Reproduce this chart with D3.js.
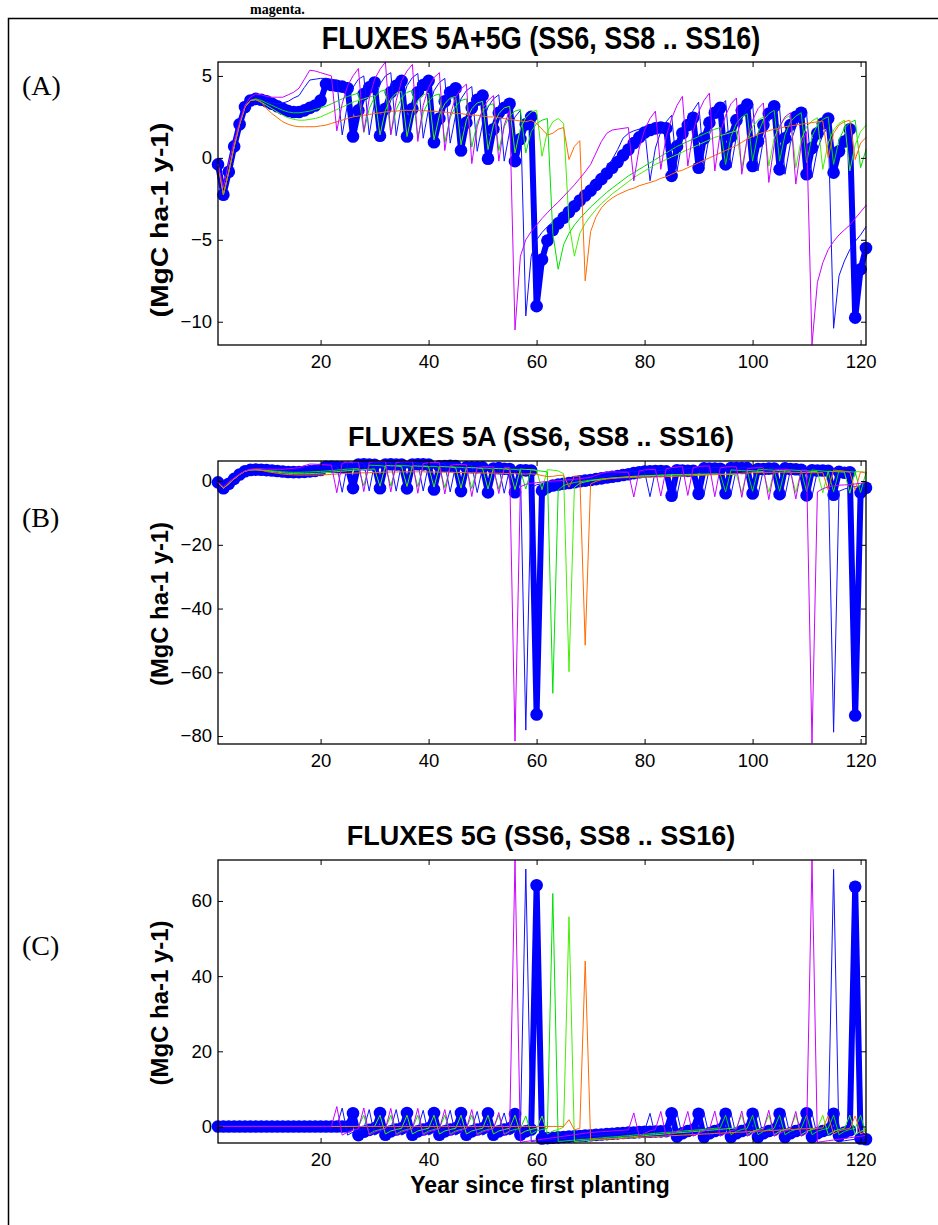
<!DOCTYPE html>
<html><head><meta charset="utf-8">
<script src="https://cdn.jsdelivr.net/npm/d3@7"></script>
<style>body{margin:0;background:#fff}</style>
</head><body>
<svg id="c" width="938" height="1225"></svg>
<script>
const years = d3.range(1, 122);

// ---- Panel A: FLUXES 5A+5G ----
const tbA = [-0.4,-2.25,-0.85,0.7,2.05,3.1,3.5,3.6,3.55,3.45, 3.3,3.15,3.0,2.85,2.8,2.8,2.9,3.05,3.2,3.5,
 4.5,4.45,4.4,4.35,4.25,1.3,2.9,3.9,4.3,4.6, 1.35,3.0,4.0,4.4,4.7,1.3,3.0,4.0,4.45,4.7,
 0.95,2.4,3.45,4.0,4.25,0.45,2.15,3.05,3.55,3.8, -0.05,1.75,2.75,3.05,3.3,-0.2,1.15,2.05,2.5,-9.05,
 -6.2,-5.05,-4.4,-4.0,-3.65,-3.3,-2.95,-2.6,-2.3,-2.0, -1.65,-1.3,-0.95,-0.6,-0.25,0.15,0.5,0.9,1.25,1.55,
 1.7,1.8,1.85,1.8,-1.1,0.7,1.5,2.0,2.45,-0.6, 1.2,2.15,2.75,3.05,-0.4,1.3,2.3,2.9,3.25,-0.5,
 1.0,2.0,2.7,3.15,-0.7,1.2,2.0,2.5,2.75,-1.0, 0.6,1.5,2.1,2.4,-0.9,0.4,1.0,1.75,-9.75,-6.8,-5.5];
const blA = [-0.4,-2.2,-0.8,0.75,2.1,3.15,3.5,3.6,3.55,3.45, 3.35,3.3,3.35,3.45,3.65,3.8,4.3,4.75,4.8,4.85,
 4.85,4.8,4.75, 1.4,3.3,4.3,4.8,5.0, 1.4,3.4,4.5,5.0,5.2, 1.35,3.3,4.4,4.9,5.15, 1.2,3.0,4.1,4.6,4.85,
 0.9,2.6,3.6,4.1,4.35, 0.4,2.1,3.1,3.6,3.85, -0.2,1.6,2.5,2.9,-9.65,
 -6.0,-5.0,-4.55,-4.2,-3.9,-3.6,-3.35,-3.05,-2.75,-2.45, -2.1,-1.75,-1.4,-1.0,-0.55,-0.1,0.5,1.2,1.5,1.65,1.75,1.8,
 -1.4,0.6,1.6,2.2,2.6, -0.8,1.1,2.2,2.9,3.4, -0.5,1.4,2.5,3.1,3.5, -0.6,1.3,2.4,3.0,3.3, -0.8,1.1,2.2,2.8,3.0,
 -1.0,0.9,1.9,2.5,2.7, -1.2,0.5,1.4,1.9, -10.4,-7.2,-6.3,-5.6,-5.1,-4.7,-4.2];
const g1A = [-0.4,-2.25,-0.85,0.7,2.05,3.1,3.5,3.6,3.5,3.35, 3.2,3.05,2.9,2.8,2.75,2.75,2.8,2.85,2.95,3.05,
 3.15,3.3,3.45,3.6,3.75,3.85,3.95, 1.55,3.0,3.7,4.05,4.15, 1.45,2.95,3.65,4.0,4.1, 1.25,2.75,3.45,3.8,3.9,
 0.95,2.45,3.15,3.5,3.6, 0.65,2.15,2.85,3.2,3.3, 0.45,1.9,2.55,2.85,2.95, 0.3,1.6,2.1,2.3,2.4,
 -4.6,-6.8,-5.3,-4.6,-4.1,-3.7,-3.35,-3.0,-2.7,-2.4, -2.1,-1.85,-1.6,-1.35,-1.1,-0.9,-0.7,-0.5,-0.3,-0.1,0.1,0.3,
 0.5,0.7,0.85,1.0,1.15,1.3,1.45,1.6,1.75,1.85, -0.4,1.3,2.1,2.5,2.7, -0.2,1.5,2.3,2.7,2.9, -0.2,1.4,2.2,2.55,2.75,
 -0.3,1.3,2.0,2.35,2.5, -0.4,1.1,1.8,2.15,2.3, -0.6,0.5];
const g2A = [-0.4,-2.25,-0.85,0.7,2.05,3.1,3.5,3.55,3.4, 3.2,3.0,2.8,2.6,2.45,2.35,2.3,2.3,2.35,2.4,2.5,
 2.65,2.8,2.95,3.1,3.25,3.4,3.5,3.6,3.7,3.8, 1.4,2.9,3.6,3.95,4.05, 1.3,2.8,3.5,3.85,3.95, 1.1,2.6,3.3,3.65,3.75,
 0.8,2.3,3.0,3.35,3.45, 0.5,2.0,2.7,3.05,3.15, 0.3,1.8,2.45,2.8,2.9, 0.1,1.6,2.2,2.4,2.1, -4.0,
 -6.0,-4.6,-4.0,-3.55,-3.15,-2.8,-2.5,-2.2,-1.95,-1.7, -1.45,-1.2,-1.0,-0.8,-0.6,-0.4,-0.25,-0.1,0.05,0.2,
 0.35,0.5,0.65,0.8,0.95,1.1,1.25,1.35,1.45,1.55,1.65, -0.6,1.1,1.9,2.3,2.5, -0.5,1.2,2.0,2.4,2.6,
 -0.6,1.1,1.9,2.25,2.45, -0.7,0.9,1.7,2.1,2.3, -0.8,0.8,1.6,2.0];
const orA = [-0.4,-2.25,-0.85,0.7,2.05,3.1,3.5,3.55,3.4, 3.0,2.7,2.45,2.2,2.05,1.95,1.9,1.9,1.9,1.9,1.95,
 2.0,2.1,2.2,2.3,2.4,2.5,2.55,2.6,2.65,2.7, 2.75,2.8,2.85,2.85,2.9,2.9,2.9,2.9,2.9,2.85,
 2.85,2.8,2.8,2.75,2.7,2.7,2.65,2.6,2.6,2.55, 2.5,2.5,2.45,2.4,2.35,2.3,2.25,2.2,2.3,2.1,
 1.75,1.4,1.5,1.75,1.85,-0.1,0.7,1.05,-7.5,-4.5, -3.6,-3.05,-2.7,-2.45,-2.25,-2.1,-1.95,-1.85,-1.7,-1.6,
 -1.5,-1.4,-1.25,-1.15,-1.0,-0.85,-0.75,-0.6,-0.45,-0.3, -0.15,0.0,0.15,0.3,0.45,0.6,0.75,0.95,1.15,1.3,
 1.45,1.55,1.65,1.75,1.8,1.9,1.95,2.0,2.05,2.1, 2.15,2.2,2.25,0.0,1.5,2.0,2.2,2.3,-0.1,0.9,1.25];
const mgA = [-0.4,-1.8,-0.3,1.0,2.2,3.2,3.7,3.9,3.85,3.75, 3.7,3.7,3.7,3.85,4.0,4.25,4.8,5.35,5.3,5.2, 5.1,5.0,
 1.65,3.3,4.4,5.0,5.45, 1.6,3.6,4.8,5.4,5.85, 1.4,3.5,4.7,5.3,5.7, 1.0,3.2,4.3,4.9,5.2, 0.45,2.6,3.7,4.2,4.5,
 -0.35,1.9,3.0,3.5,3.8, -0.2,2.0,2.9,-10.5,
 -6.0,-5.0,-4.5,-4.1,-3.7,-3.35,-3.0,-2.7,-2.35,-2.0, -1.65,-1.25,-0.85,-0.4,0.3,1.0,1.5,1.7,1.75,1.8,1.85,
 -1.4,0.6,1.7,2.4,2.85, -0.7,1.3,2.4,3.2,3.75, -0.5,1.6,2.8,3.5,3.95, -0.8,1.5,2.6,3.3,3.65, -1.0,1.2,2.3,3.0,3.35,
 -1.5,0.8,1.9,2.5,2.75, -1.6,0.8,1.6, -11.4,-7.6,-6.4,-5.6,-5.1,-4.7,-4.4,-4.1,-3.7,-3.3,-2.9];

// ---- Panel B: FLUXES 5A ----
const tbB = [-0.4,-2.25,-0.85,0.7,2.05,3.1,3.5,3.6,3.55,3.45, 3.3,3.15,3.0,2.85,2.8,2.8,2.9,3.05,3.2,3.5,
 4.5,4.45,4.4,4.35,4.25, -2.2,5.2,5.3,5.2,5.1, -2.25,5.2,5.3,5.2,5.2, -2.3,5.2,5.3,5.25,5.2,
 -2.65,4.6,4.75,4.8,4.75, -3.15,4.35,4.35,4.35,4.3, -3.55,3.95,4.05,3.85,3.8, -3.5,3.35,3.35,3.3,-73.25,
 -3.0,-1.95,-1.4,-1.1,-0.85,-0.6,-0.35,-0.05,0.15,0.35, 0.6,0.85,1.1,1.35,1.6,1.9,2.15,2.5,2.75,3.0,
 3.1,3.15,3.15,3.05, -4.6,3.4,3.3,3.2,3.25, -4.0,4.0,3.95,3.95,3.85, -3.8,4.1,4.1,4.1,4.05,
 -3.9,3.8,3.8,3.9,3.95, -4.1,4.0,3.8,3.7,3.55, -4.5,3.4,3.3,3.3,3.2, -4.3,2.9,2.6,2.75,-73.55,-3.6,-2.1];
const blB = [-0.4,-2.2,-0.8,0.75,2.1,3.15,3.5,3.6,3.55,3.45, 3.35,3.3,3.35,3.45,3.65,3.8,4.3,4.75,4.8,4.85,
 4.85,4.8,4.75, -3.5,5.6,5.8,5.8,5.6, -3.1,5.7,6.0,6.0,5.8, -3.15,5.6,5.9,5.9,5.75, -3.1,5.3,5.6,5.6,5.45,
 -3.4,4.9,5.1,5.1,4.95, -3.6,4.4,4.6,4.6,4.45, -3.8,3.8,3.9,3.8,-78.15,
 -2.0,-1.15,-0.85,-0.6,-0.45,-0.3,-0.15,0.0,0.15,0.35, 0.55,0.75,1.0,1.25,1.55,1.85,2.35,2.9,3.05,3.1,3.05,3.0,
 -4.9,3.2,3.4,3.4,3.4, -4.4,3.7,4.0,4.1,4.2, -4.1,4.0,4.3,4.3,4.3, -4.2,3.9,4.2,4.2,4.1, -4.4,3.7,4.0,4.0,3.8,
 -4.6,3.5,3.7,3.7,3.5, -4.8,3.1,3.2,3.1, -78.8,-3.2,-2.5,-2.0,-1.7,-1.5,-1.2];
const g1B = [-0.4,-2.25,-0.85,0.7,2.05,3.1,3.5,3.6,3.5,3.35, 3.2,3.05,2.9,2.8,2.75,2.75,2.8,2.85,2.95,3.05,
 3.15,3.3,3.45,3.6,3.75,3.85,3.95, -1.45,5.0,4.9,4.85,4.65, -1.55,4.95,4.85,4.8,4.6, -1.75,4.75,4.65,4.6,4.4,
 -2.05,4.45,4.35,4.3,4.1, -2.35,4.15,4.05,4.0,3.8, -2.55,3.9,3.75,3.65,3.45, -2.5,3.6,3.3,3.1,2.9, -66.6,
 -2.8,-1.4,-0.85,-0.45,-0.2,0.05,0.3,0.45,0.65,0.8, 0.95,1.1,1.2,1.35,1.4,1.5,1.6,1.65,1.75,1.8,
 1.9,2.0,2.05,2.1,2.1,2.15,2.2,2.2,2.25,2.25,2.25, -3.4,3.5,3.4,3.3,3.2, -3.2,3.7,3.6,3.5,3.4,
 -3.2,3.6,3.5,3.35,3.25, -3.3,3.5,3.3,3.15,3.0, -3.4,3.3,3.1,2.95,2.8, -3.6,2.7];
const g2B = [-0.4,-2.25,-0.85,0.7,2.05,3.1,3.5,3.55,3.4, 3.2,3.0,2.8,2.6,2.45,2.35,2.3,2.3,2.35,2.4,2.5,
 2.65,2.8,2.95,3.1,3.25,3.4,3.5,3.6,3.7,3.8, -1.6,4.9,4.8,4.75,4.55, -1.7,4.8,4.7,4.65,4.45, -1.9,4.6,4.5,4.45,4.25,
 -2.2,4.3,4.2,4.15,3.95, -2.5,4.0,3.9,3.85,3.65, -2.7,3.8,3.65,3.6,3.4, -2.7,3.6,3.4,3.2,2.3, -59.8,
 -2.0,-0.7,-0.25,0.1,0.35,0.6,0.8,0.95,1.1,1.2, 1.35,1.5,1.55,1.65,1.7,1.8,1.85,1.85,1.9,1.9,
 1.95,2.0,2.0,2.05,2.05,2.1,2.15,2.1,2.1,2.05,2.05, -3.6,3.3,3.2,3.1,3.0, -3.5,3.4,3.3,3.2,3.1,
 -3.6,3.3,3.2,3.05,2.95, -3.7,3.1,3.0,2.9,2.8, -3.8,3.0,2.9,2.8];
const orB = [-0.4,-2.25,-0.85,0.7,2.05,3.1,3.5,3.55,3.4, 3.0,2.7,2.45,2.2,2.05,1.95,1.9,1.9,1.9,1.9,1.95,
 2.0,2.1,2.2,2.3,2.4,2.5,2.55,2.6,2.65,2.7, 2.75,2.8,2.85,2.85,2.9,2.9,2.9,2.9,2.9,2.85,
 2.85,2.8,2.8,2.75,2.7,2.7,2.65,2.6,2.6,2.55, 2.5,2.5,2.45,2.4,2.35,2.3,2.25,2.2,2.3,2.1,
 1.75,1.4,1.5,1.75,1.85,-1.9,1.6,1.55,-51.5,-0.9, -0.1,0.4,0.65,0.85,0.95,1.05,1.1,1.15,1.2,1.25,
 1.25,1.3,1.35,1.4,1.45,1.55,1.55,1.65,1.7,1.8, 1.85,1.95,2.0,2.1,2.15,2.25,2.3,2.45,2.55,2.65,
 2.7,2.75,2.75,2.8,2.75,2.8,2.75,2.75,2.7,2.7, 2.65,2.65,2.65,-2.8,3.5,3.2,3.0,2.8,-2.9,2.9,2.45];
const mgB = [-0.4,-1.8,-0.3,1.0,2.2,3.2,3.7,3.9,3.85,3.75, 3.7,3.7,3.7,3.85,4.0,4.25,4.8,5.35,5.3,5.2, 5.1,5.0,
 -3.65,5.6,5.9,6.0,6.05, -3.3,5.9,6.1,6.2,6.25, -3.4,5.8,6.1,6.2,6.25, -3.8,5.5,5.8,5.9,5.8, -4.05,4.9,5.2,5.2,5.1,
 -4.85,4.2,4.5,4.5,4.4, -3.9,4.2,4.3,-81.6,
 -1.8,-1.0,-0.7,-0.5,-0.3,-0.15,0.0,0.1,0.25,0.4,0.55,0.75,0.95, 1.2,1.8,2.4,2.8,2.9,2.85,2.8,2.75,
 -5.0,3.2,3.5,3.6,3.65, -4.7,3.9,4.2,4.4,4.55, -4.5,4.2,4.6,4.7,4.75, -4.9,4.1,4.4,4.5,4.45, -5.1,3.8,4.1,4.2,4.15,
 -5.8,3.4,3.7,3.7,3.55, -5.6,3.4,3.4, -82.3,-3.4,-2.4,-1.8,-1.5,-1.3,-1.2,-1.1,-0.9,-0.7,-0.5];

// ---- Panel C: FLUXES 5G ----
const tbC = [0,0,0,0,0,0,0,0,0,0, 0,0,0,0,0,0,0,0,0,0, 0,0,0,0,0,
 3.5,-2.3,-1.4,-0.9,-0.5, 3.6,-2.2,-1.3,-0.8,-0.5, 3.6,-2.2,-1.3,-0.8,-0.5, 3.6,-2.2,-1.3,-0.8,-0.5,
 3.6,-2.2,-1.3,-0.8,-0.5, 3.5,-2.2,-1.3,-0.8,-0.5, 3.3,-2.2,-1.3,-0.8,64.2,
 -3.2,-3.1,-3.0,-2.9,-2.8,-2.7,-2.6,-2.55,-2.45,-2.35, -2.25,-2.15,-2.05,-1.95,-1.85,-1.75,-1.65,-1.6,-1.5,-1.45,
 -1.4,-1.35,-1.3,-1.25, 3.5,-2.7,-1.8,-1.2,-0.8, 3.4,-2.8,-1.8,-1.2,-0.8, 3.4,-2.8,-1.8,-1.2,-0.8,
 3.4,-2.8,-1.8,-1.2,-0.8, 3.4,-2.8,-1.8,-1.2,-0.8, 3.5,-2.8,-1.8,-1.2,-0.8, 3.4,-2.5,-1.6,-1.0,63.8,-3.2,-3.4];
const blC = [0,0,0,0,0,0,0,0,0,0, 0,0,0,0,0,0,0,0,0,0, 0,0,0,
 4.9,-2.3,-1.5,-1.0,-0.6, 4.5,-2.3,-1.5,-1.0,-0.6, 4.5,-2.3,-1.5,-1.0,-0.6, 4.3,-2.3,-1.5,-1.0,-0.6,
 4.3,-2.3,-1.5,-1.0,-0.6, 4.0,-2.3,-1.5,-1.0,-0.6, 3.6,-2.2,-1.4,-0.9,68.5,
 -4.0,-3.85,-3.7,-3.6,-3.45,-3.3,-3.2,-3.05,-2.9,-2.8, -2.65,-2.5,-2.4,-2.25,-2.1,-1.95,-1.85,-1.7,-1.55,-1.45,-1.3,-1.2,
 3.5,-2.6,-1.8,-1.2,-0.8, 3.6,-2.6,-1.8,-1.2,-0.8, 3.6,-2.6,-1.8,-1.2,-0.8, 3.6,-2.6,-1.8,-1.2,-0.8,
 3.6,-2.6,-1.8,-1.2,-0.8, 3.6,-2.6,-1.8,-1.2,-0.8, 3.6,-2.6,-1.8,-1.2, 68.4,-4.0,-3.8,-3.6,-3.4,-3.2,-3.0];
const g1C = [0,0,0,0,0,0,0,0,0,0, 0,0,0,0,0,0,0,0,0,0, 0,0,0,0,0,0,0,
 3.0,-2.0,-1.2,-0.8,-0.5, 3.0,-2.0,-1.2,-0.8,-0.5, 3.0,-2.0,-1.2,-0.8,-0.5, 3.0,-2.0,-1.2,-0.8,-0.5,
 3.0,-2.0,-1.2,-0.8,-0.5, 3.0,-2.0,-1.2,-0.8,-0.5, 2.8,-2.0,-1.2,-0.8,-0.5, 62.0,
 -4.0,-3.9,-3.75,-3.65,-3.5,-3.4,-3.3,-3.15,-3.05,-2.9, -2.8,-2.7,-2.55,-2.45,-2.3,-2.2,-2.1,-1.95,-1.85,-1.7,
 -1.6,-1.5,-1.35,-1.25,-1.1,-1.0,-0.9,-0.75,-0.65,-0.5,-0.4,
 3.0,-2.2,-1.3,-0.8,-0.5, 3.0,-2.2,-1.3,-0.8,-0.5, 3.0,-2.2,-1.3,-0.8,-0.5, 3.0,-2.2,-1.3,-0.8,-0.5,
 3.0,-2.2,-1.3,-0.8,-0.5, 3.0,-2.2];
const g2C = [0,0,0,0,0,0,0,0,0,0, 0,0,0,0,0,0,0,0,0,0, 0,0,0,0,0,0,0,0,0,0,
 3.0,-2.0,-1.2,-0.8,-0.5, 3.0,-2.0,-1.2,-0.8,-0.5, 3.0,-2.0,-1.2,-0.8,-0.5, 3.0,-2.0,-1.2,-0.8,-0.5,
 3.0,-2.0,-1.2,-0.8,-0.5, 3.0,-2.0,-1.2,-0.8,-0.5, 2.8,-2.0,-1.2,-0.8,-0.2, 55.8,
 -4.0,-3.9,-3.75,-3.65,-3.5,-3.4,-3.3,-3.15,-3.05,-2.9, -2.8,-2.7,-2.55,-2.45,-2.3,-2.2,-2.1,-1.95,-1.85,-1.7,
 -1.6,-1.5,-1.35,-1.25,-1.1,-1.0,-0.9,-0.75,-0.65,-0.5,-0.4,
 3.0,-2.2,-1.3,-0.8,-0.5, 3.0,-2.2,-1.3,-0.8,-0.5, 3.0,-2.2,-1.3,-0.8,-0.5, 3.0,-2.2,-1.3,-0.8,-0.5,
 3.0,-2.2,-1.3,-0.8];
const orC = [0,0,0,0,0,0,0,0,0,0, 0,0,0,0,0,0,0,0,0,0, 0,0,0,0,0,0,0,0,0,0,
 0,0,0,0,0,0,0,0,0,0, 0,0,0,0,0,0,0,0,0,0, 0,0,0,0,0,0,0,0,0,0, 0,0,0,0,0,
 1.8,-0.9,-0.5,44.0, -3.6,-3.5,-3.45,-3.35,-3.3,-3.2,-3.15,-3.05,-3.0,-2.9,
 -2.85,-2.75,-2.7,-2.6,-2.55,-2.45,-2.4,-2.3,-2.25,-2.15, -2.1,-2.0,-1.95,-1.85,-1.8,-1.7,-1.65,-1.55,-1.5,-1.4,
 -1.35,-1.25,-1.2,-1.1,-1.05,-0.95,-0.9,-0.8,-0.75,-0.65, -0.6,-0.5,-0.45,-0.4,
 2.8,-2.0,-1.2,-0.8,-0.5,2.8,-2.0,-1.2];
const mgC = [0,0,0,0,0,0,0,0,0,0, 0,0,0,0,0,0,0,0,0,0, 0,0,
 5.3,-2.3,-1.5,-1.0,-0.6, 4.9,-2.3,-1.5,-1.0,-0.6, 4.8,-2.3,-1.5,-1.0,-0.6, 4.8,-2.3,-1.5,-1.0,-0.6,
 4.5,-2.3,-1.5,-1.0,-0.6, 4.5,-2.3,-1.5,-1.0,-0.6, 3.7,-2.2,-1.4,70.9,
 -4.2,-4.0,-3.8,-3.6,-3.4,-3.2,-3.0,-2.8,-2.6,-2.4,-2.2,-2.0,-1.8, -1.6,-1.5,-1.4,-1.3,-1.2,-1.1,-1.0,-0.9,
 3.6,-2.6,-1.8,-1.2,-0.8, 4.0,-2.6,-1.8,-1.2,-0.8, 4.0,-2.6,-1.8,-1.2,-0.8, 4.1,-2.6,-1.8,-1.2,-0.8,
 4.1,-2.6,-1.8,-1.2,-0.8, 4.3,-2.6,-1.8,-1.2,-0.8, 4.0,-2.6,-1.8,
 70.9,-4.2,-4.0,-3.8,-3.6,-3.4,-3.2,-3.0,-2.8,-2.6,-2.4];

const xTicks = [20, 40, 60, 80, 100, 120];
const yTicksA = [-10, -5, 0, 5];
const yTicksB = [-80, -60, -40, -20, 0];
const yTicksC = [0, 20, 40, 60];
const yDomainA = [-11.42, 5.85];
const yDomainB = [-82.5, 6.3];
const yDomainC = [-4.4, 70.9];

const titles = ["FLUXES 5A+5G (SS6, SS8 .. SS16)", "FLUXES 5A (SS6, SS8 .. SS16)", "FLUXES 5G (SS6, SS8 .. SS16)"];
const panelLabels = ["(A)", "(B)", "(C)"];
const yLabel = "(MgC ha-1 y-1)";
const xLabel = "Year since first planting";
const topNote = "magenta.";

// ---- styling / layout ----
const seriesOrder = ["tb", "bl", "g1", "g2", "or", "mg"];
const style = {
  tb: {color: "#0000ff", width: 6, r: 6.3},
  bl: {color: "#1010ff", width: 1},
  g1: {color: "#00e000", width: 1},
  g2: {color: "#44f000", width: 1},
  or: {color: "#ff6a00", width: 1},
  mg: {color: "#cc00ff", width: 1}
};
// per-panel layout (panel A of the source figure is slightly stretched vertically)
const panels = [
  {top: 62, domain: yDomainA, ticks: yTicksA, data: {tb: tbA, bl: blA, g1: g1A, g2: g2A, or: orA, mg: mgA},
   labelY: 95, titleBase: 49, titleSY: 1.18, ylabCY: 220, ylabLen: 195},
  {top: 461, domain: yDomainB, ticks: yTicksB, data: {tb: tbB, bl: blB, g1: g1B, g2: g2B, or: orB, mg: mgB},
   labelY: 527, titleBase: 446, titleSY: 1, ylabCY: 604, ylabLen: 164},
  {top: 860, domain: yDomainC, ticks: yTicksC, data: {tb: tbC, bl: blC, g1: g1C, g2: g2C, or: orC, mg: mgC},
   labelY: 955, titleBase: 845, titleSY: 1, ylabCY: 1003, ylabLen: 165}
];
const L = 218, R = 866, H = 283;
const sans = "'Liberation Sans', Arial, Helvetica, sans-serif";
const serif = "'Liberation Serif', 'Times New Roman', serif";

const svg = d3.select("#c");
svg.append("rect").attr("width", 938).attr("height", 1225).attr("fill", "#fff");
// outer frame
svg.append("path").attr("d", "M8.5,1225 V18.5 H938").attr("fill", "none").attr("stroke", "#000").attr("stroke-width", 1.5);
svg.append("text").attr("x", 250).attr("y", 14).attr("font-family", serif).attr("font-weight", "bold")
  .attr("font-size", 14).text(topNote);

const x = d3.scaleLinear().domain([1, 121]).range([L, R]);

panels.forEach((p, i) => {
  const y = d3.scaleLinear().domain(p.domain).range([p.top + H, p.top]);
  const g = svg.append("g");

  // series
  seriesOrder.forEach(k => {
    const vals = p.data[k];
    const st = style[k];
    const line = d3.line().x((d, j) => x(years[j])).y(d => y(d));
    g.append("path").datum(vals).attr("d", line).attr("fill", "none")
      .attr("stroke", st.color).attr("stroke-width", st.width)
      .attr("stroke-linejoin", "round").attr("stroke-linecap", "round");
    if (st.r) {
      g.selectAll(null).data(vals).enter().append("circle")
        .attr("cx", (d, j) => x(years[j])).attr("cy", d => y(d)).attr("r", st.r)
        .attr("fill", st.color);
    }
  });

  // axes (inward ticks, MATLAB box)
  const ax = svg.append("g").attr("font-family", sans).attr("font-size", 18);
  ax.append("g").attr("transform", `translate(0,${p.top + H})`)
    .call(d3.axisBottom(x).tickValues(xTicks).tickSizeInner(-5).tickSizeOuter(0).tickPadding(10));
  ax.append("g").attr("transform", `translate(0,${p.top})`)
    .call(d3.axisTop(x).tickValues(xTicks).tickSizeInner(-5).tickSizeOuter(0).tickFormat(""));
  ax.append("g").attr("transform", `translate(${L},0)`)
    .call(d3.axisLeft(y).tickValues(p.ticks).tickSizeInner(-5).tickSizeOuter(0).tickPadding(6).tickFormat(d3.format("d")));
  ax.append("g").attr("transform", `translate(${R},0)`)
    .call(d3.axisRight(y).tickValues(p.ticks).tickSizeInner(-5).tickSizeOuter(0).tickFormat(""));
  ax.selectAll(".domain").remove();
  ax.selectAll(".tick line").attr("stroke", "#000");
  ax.selectAll(".tick text").attr("fill", "#000").attr("font-family", sans).attr("font-size", 18.5);
  ax.append("rect").attr("x", L).attr("y", p.top).attr("width", R - L).attr("height", H)
    .attr("fill", "none").attr("stroke", "#000").attr("stroke-width", 1.3);

  // title
  svg.append("text").attr("transform", `translate(541,${p.titleBase}) scale(1,${p.titleSY})`)
    .attr("text-anchor", "middle")
    .attr("font-family", sans).attr("font-weight", "bold").attr("font-size", 27).text(titles[i]);
  // y label
  svg.append("text").attr("transform", `translate(168,${p.ylabCY}) rotate(-90)`)
    .attr("x", -p.ylabLen / 2)
    .attr("textLength", p.ylabLen).attr("lengthAdjust", "spacingAndGlyphs")
    .attr("font-family", sans).attr("font-weight", "bold")
    .attr("font-size", 23).text(yLabel);
  // panel label
  svg.append("text").attr("x", 22).attr("y", p.labelY).attr("font-family", serif)
    .attr("font-size", 28).text(panelLabels[i]);
});

svg.append("text").attr("x", 540).attr("y", 1193).attr("text-anchor", "middle")
  .attr("font-family", sans).attr("font-weight", "bold").attr("font-size", 23).text(xLabel);
</script>
</body></html>
